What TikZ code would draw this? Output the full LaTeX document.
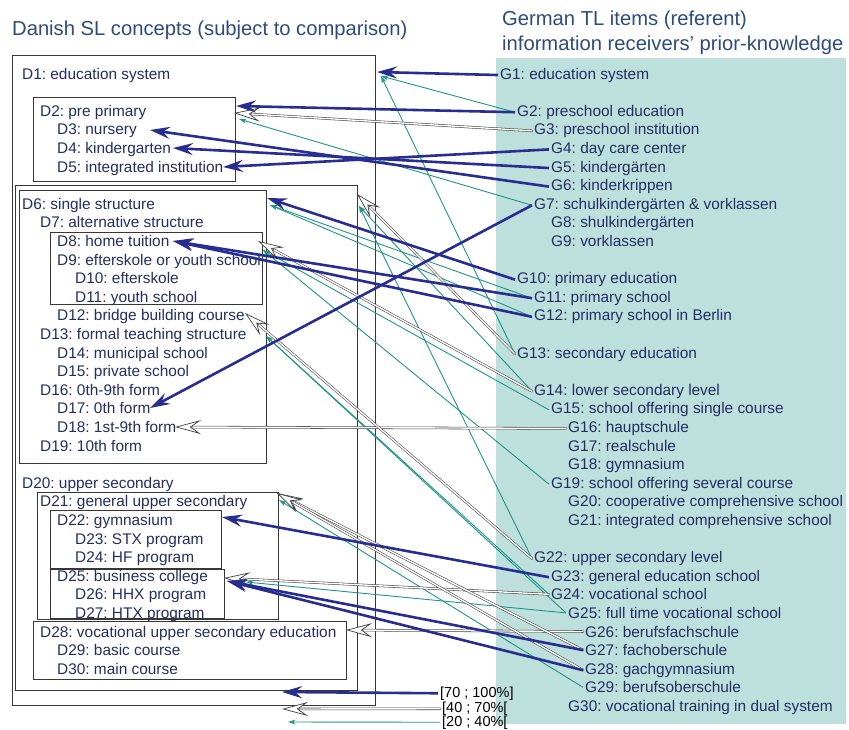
\documentclass[tikz,border=0pt]{standalone}
\usepackage{fontspec}
\setmainfont{Liberation Sans}
\usetikzlibrary{arrows.meta,calc}
\definecolor{itemc}{RGB}{35,45,100}
\definecolor{headc}{RGB}{45,75,125}
\definecolor{strongc}{RGB}{40,45,145}
\definecolor{weakc}{RGB}{30,150,135}
\definecolor{bgteal}{RGB}{190,224,220}
\definecolor{boxc}{RGB}{55,55,55}
\frenchspacing
\newcommand\hollowlink[2]{%
  \draw[midline, shorten >=15pt] (#1) -- (#2);
  \draw[midhead] ($(#2)!18pt!(#1)$) -- (#2);}
\begin{document}
\begin{tikzpicture}[x=1pt,y=-1pt,
  item/.style={anchor=base west, inner sep=2pt, text=itemc, font=\fontsize{15.4}{18}\selectfont},
  head/.style={anchor=base west, inner sep=0pt, text=headc, font=\fontsize{20.2}{24}\selectfont},
  legendtext/.style={anchor=base west, inner sep=2pt, text=black, font=\fontsize{14.5}{17}\selectfont},
  boxline/.style={draw=boxc, line width=0.8pt},
  strongarrow/.style={draw=strongc, line width=2.6pt, -{Stealth[length=20pt, width=12pt, inset=7pt]}},
  weakarrow/.style={draw=weakc, line width=0.9pt, -{Stealth[length=7pt, width=4.5pt, inset=1.5pt]}},
  midline/.style={draw=black!75, line width=0.55pt, double=white, double distance=1.4pt, line cap=round},
  midhead/.style={draw=black!75, line width=0.7pt,
     -{Stealth[open, fill=white, length=26pt, width=14pt, inset=10pt]}}
]
\useasboundingbox (0,0) rectangle (849,729);
\fill[bgteal] (496,58) rectangle (846,724);

% headers
\node[head] (hD) at (12,35) {Danish SL concepts (subject to comparison)};
\node[head] (hG1) at (502,25) {German TL items (referent)};
\node[head] (hG2) at (502,50) {information receivers’ prior-knowledge};

% boxes
\draw[boxline] (12,55) rectangle (375,705);
\draw[boxline] (33,97) rectangle (235,181);
\draw[boxline] (15,185) rectangle (357,690);
\draw[boxline] (19,190) rectangle (266,463);
\draw[boxline] (50,232) rectangle (262,304);
\draw[boxline] (37,492) rectangle (278,619);
\draw[boxline] (50,510) rectangle (221,568);
\draw[boxline] (50,569) rectangle (224,618);
\draw[boxline] (33,621) rectangle (346,679);

% Danish items
\node[item] (D1) at (20,79) {D1: education system};
\node[item] (D2) at (38,116.2) {D2: pre primary};
\node[item] (D3) at (55,134.8) {D3: nursery};
\node[item] (D4) at (55,153.4) {D4: kindergarten};
\node[item] (D5) at (55,172) {D5: integrated institution};
\node[item] (D6) at (20,209.2) {D6: single structure};
\node[item] (D7) at (38,227.8) {D7: alternative structure};
\node[item] (D8) at (55,246.4) {D8: home tuition};
\node[item] (D9) at (55,265) {D9: efterskole or youth school};
\node[item] (D10) at (73,283.6) {D10: efterskole};
\node[item] (D11) at (73,302.2) {D11: youth school};
\node[item] (D12) at (55,320.8) {D12: bridge building course};
\node[item] (D13) at (38,339.4) {D13: formal teaching structure};
\node[item] (D14) at (55,358) {D14: municipal school};
\node[item] (D15) at (55,376.6) {D15: private school};
\node[item] (D16) at (38,395.2) {D16: 0th-9th form};
\node[item] (D17) at (55,413.8) {D17: 0th form};
\node[item] (D18) at (55,432.4) {D18: 1st-9th form};
\node[item] (D19) at (38,451) {D19: 10th form};
\node[item] (D20) at (20,488.2) {D20: upper secondary};
\node[item] (D21) at (38,506.8) {D21: general upper secondary};
\node[item] (D22) at (55,525.4) {D22: gymnasium};
\node[item] (D23) at (73,544) {D23: STX program};
\node[item] (D24) at (73,562.6) {D24: HF program};
\node[item] (D25) at (55,581.2) {D25: business college};
\node[item] (D26) at (73,599.8) {D26: HHX program};
\node[item] (D27) at (73,618.4) {D27: HTX program};
\node[item] (D28) at (38,637) {D28: vocational upper secondary education};
\node[item] (D29) at (55,655.6) {D29: basic course};
\node[item] (D30) at (55,674.2) {D30: main course};

% German items
\node[item] (G1) at (498,79) {G1: education system};
\node[item] (G2) at (515,116.2) {G2: preschool education};
\node[item] (G3) at (532,134.8) {G3: preschool institution};
\node[item] (G4) at (549,153.4) {G4: day care center};
\node[item] (G5) at (549,172) {G5: kindergärten};
\node[item] (G6) at (549,190.6) {G6: kinderkrippen};
\node[item] (G7) at (532,209.2) {G7: schulkindergärten \& vorklassen};
\node[item] (G8) at (549,227.8) {G8: shulkindergärten};
\node[item] (G9) at (549,246.4) {G9: vorklassen};
\node[item] (G10) at (515,283.6) {G10: primary education};
\node[item] (G11) at (532,302.2) {G11: primary school};
\node[item] (G12) at (532,320.8) {G12: primary school in Berlin};
\node[item] (G13) at (515,358) {G13: secondary education};
\node[item] (G14) at (532,395.2) {G14: lower secondary level};
\node[item] (G15) at (549,413.8) {G15: school offering single course};
\node[item] (G16) at (566,432.4) {G16: hauptschule};
\node[item] (G17) at (566,451) {G17: realschule};
\node[item] (G18) at (566,469.6) {G18: gymnasium};
\node[item] (G19) at (549,488.2) {G19: school offering several course};
\node[item] (G20) at (566,506.8) {G20: cooperative comprehensive school};
\node[item] (G21) at (566,525.4) {G21: integrated comprehensive school};
\node[item] (G22) at (532,562.6) {G22: upper secondary level};
\node[item] (G23) at (549,581.2) {G23: general education school};
\node[item] (G24) at (549,599.8) {G24: vocational school};
\node[item] (G25) at (566,618.4) {G25: full time vocational school};
\node[item] (G26) at (583,637) {G26: berufsfachschule};
\node[item] (G27) at (583,655.6) {G27: fachoberschule};
\node[item] (G28) at (583,674.2) {G28: gachgymnasium};
\node[item] (G29) at (583,692.8) {G29: berufsoberschule};
\node[item] (G30) at (566,711.4) {G30: vocational training in dual system};

% legend
\node[legendtext] (L1) at (438,697) {[70 ; 100\%]};
\node[legendtext] (L2) at (440,712.5) {[40 ; 70\%[};
\node[legendtext] (L3) at (440,726) {[20 ; 40\%[};

% arrow end points on the Danish side
\coordinate (tD1s) at (377,72);
\coordinate (tD1w) at (381,76);
\coordinate (tD2s) at (236,106);
\coordinate (tD2m) at (234,113);
\coordinate (tD2w) at (239,119);
\coordinate (tD3s) at (150,130);
\coordinate (tD4s) at (173,148);
\coordinate (tD5s) at (223,167);
\coordinate (tD6s) at (267,198);
\coordinate (tD6w) at (270,205);
\coordinate (tBm) at (357,194);
\coordinate (tBw) at (359,206);
\coordinate (tD8s) at (173,241);
\coordinate (tD9m) at (258,241);
\coordinate (tD9w) at (263,250);
\coordinate (tD12m) at (245,313);
\coordinate (tD12w) at (266,336);
\coordinate (tD17s) at (150,408);
\coordinate (tD18m) at (175,427);
\coordinate (tD21m) at (277,493);
\coordinate (tD21w) at (279,500);
\coordinate (tD22s) at (222,517);
\coordinate (tD25m) at (224,578);
\coordinate (tD25s) at (227,581);
\coordinate (tD25w) at (246,582);
\coordinate (tD28m) at (346,630);
\coordinate (tL1) at (282,692);
\coordinate (tL2) at (282,709);
\coordinate (tL3) at (288,722);

% weak links
\draw[weakarrow] (G2.west) -- (tD1w);
\draw[weakarrow] (G13.west) -- (tD1w);
\draw[weakarrow] (G7.west) -- (tD2w);
\draw[weakarrow] (G11.west) -- (tD6w);
\draw[weakarrow] (G12.west) -- (tD6w);
\draw[weakarrow] (G14.west) -- (tBw);
\draw[weakarrow] (G22.west) -- (tBw);
\draw[weakarrow] (G15.west) -- (tD9w);
\draw[weakarrow] (G19.west) -- (tD9w);
\draw[weakarrow] (G24.west) -- (tD12w);
\draw[weakarrow] (G25.west) -- (tD12w);
\draw[weakarrow] (G25.west) -- (tD25w);
\draw[weakarrow] (G29.west) -- (tD21w);
\draw[weakarrow] (L3.west) -- (tL3);

% medium links
\hollowlink{G3.west}{tD2m}
\hollowlink{G13.west}{tBm}
\hollowlink{G14.west}{tD9m}
\hollowlink{G16.west}{tD18m}
\hollowlink{G22.west}{tD12m}
\hollowlink{G24.west}{tD25m}
\hollowlink{G26.west}{tD28m}
\hollowlink{G27.west}{tD21m}
\hollowlink{G28.west}{tD21m}
\hollowlink{L2.west}{tL2}

% strong links
\draw[strongarrow] (G1.west) -- (tD1s);
\draw[strongarrow] (G2.west) -- (tD2s);
\draw[strongarrow] (G4.west) -- (tD5s);
\draw[strongarrow] (G5.west) -- (tD4s);
\draw[strongarrow] (G6.west) -- (tD3s);
\draw[strongarrow] (G7.west) -- (tD17s);
\draw[strongarrow] (G10.west) -- (tD6s);
\draw[strongarrow] (G11.west) -- (tD8s);
\draw[strongarrow] (G12.west) -- (tD8s);
\draw[strongarrow] (G23.west) -- (tD22s);
\draw[strongarrow] (G27.west) -- (tD25s);
\draw[strongarrow] (G28.west) -- (tD25s);
\draw[strongarrow] (L1.west) -- (tL1);
\end{tikzpicture}
\end{document}
